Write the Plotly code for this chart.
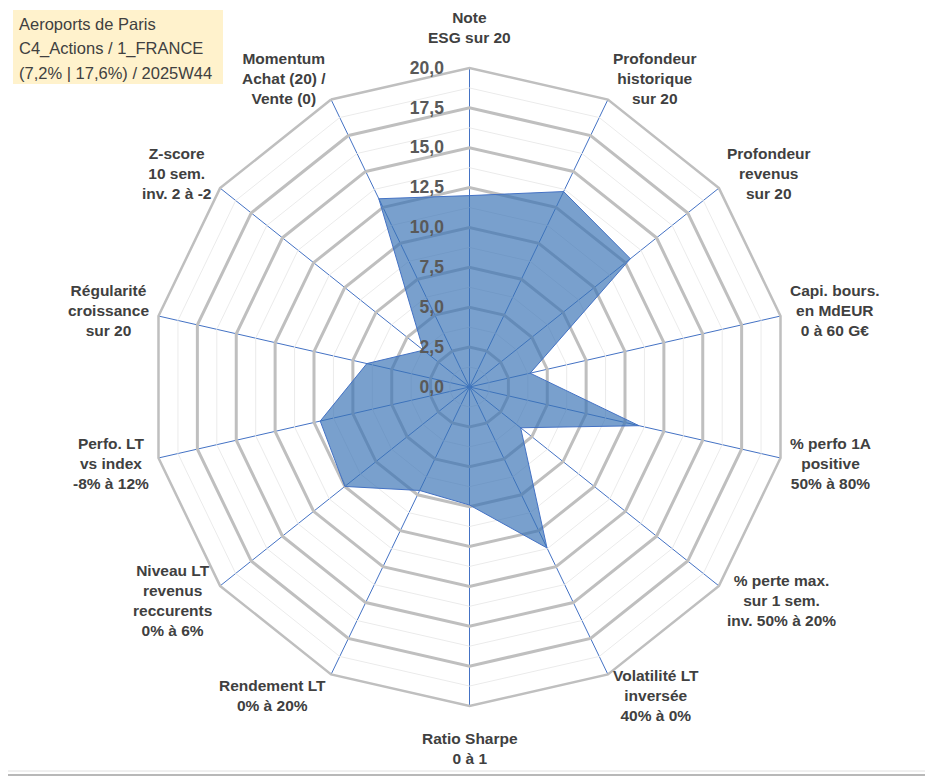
import math
import plotly.graph_objects as go

# --- données ---
criteres = [
    "Note<br>ESG sur 20",
    "Profondeur<br>historique<br>sur 20",
    "Profondeur<br>revenus<br>sur 20",
    "Capi. bours.<br>en MdEUR<br>0 à 60 G€",
    "% perfo 1A<br>positive<br>50% à 80%",
    "% perte max.<br>sur 1 sem.<br>inv. 50% à 20%",
    "Volatilité LT<br>inversée<br>40% à 0%",
    "Ratio Sharpe<br>0 à 1",
    "Rendement LT<br>0% à 20%",
    "Niveau LT<br>revenus<br>reccurents<br>0% à 6%",
    "Perfo. LT<br>vs index<br>-8% à 12%",
    "Régularité<br>croissance<br>sur 20",
    "Z-score<br>10 sem.<br>inv. 2 à -2",
    "Momentum<br>Achat (20) /<br>Vente (0)",
]
notes = [12.0, 13.6, 12.9, 3.9, 10.9, 4.1, 11.2, 7.4, 7.2, 10.0, 9.6, 6.6, 3.7, 13.1]

titre_lignes = [
    "Aeroports de Paris",
    "C4_Actions / 1_FRANCE",
    "(7,2% | 17,6%) / 2025W44",
]

# la page HTML ajoute une marge de 8 px autour de la figure
OFF = 8
W, H = 933 - OFF, 776 - OFF
CX, CY, R = 469.5 - OFF, 387 - OFF, 319
# ellipse des libellés (l'image Excel est un peu étirée verticalement) + écart
LAB_RX, LAB_RY, GAP = 312, 326, 16


def px(x):
    return x / W


def py(y):
    return 1 - y / H


fig = go.Figure()

# grille secondaire (pas de 1,25 entre les graduations principales)
for k in range(1, 16, 2):
    fig.add_trace(go.Scatterpolar(
        r=[k * 1.25] * (len(criteres) + 1),
        theta=criteres + criteres[:1],
        mode="lines",
        line=dict(color="#EBEBEB", width=1),
        hoverinfo="skip",
        showlegend=False,
    ))

# série principale
fig.add_trace(go.Scatterpolar(
    r=notes + notes[:1],
    theta=criteres + criteres[:1],
    mode="lines",
    fill="toself",
    fillcolor="rgba(58,115,182,0.68)",
    line=dict(color="#4472C4", width=1),
    name="Aeroports de Paris",
    showlegend=False,
))

fig.update_layout(
    width=W,
    height=H,
    margin=dict(l=0, r=0, t=0, b=0),
    paper_bgcolor="white",
    separators=", ",
    font=dict(family="Liberation Sans, Arial, sans-serif", color="#404040"),
    polar=dict(
        domain=dict(x=[(CX - R) / W, (CX + R) / W],
                    y=[1 - (CY + R) / H, 1 - (CY - R) / H]),
        bgcolor="white",
        gridshape="linear",
        angularaxis=dict(
            direction="clockwise",
            rotation=90,
            showgrid=True,
            gridcolor="#4472C4",
            gridwidth=1,
            showline=True,
            linecolor="#BFBFBF",
            linewidth=2.5,
            ticks="",
            showticklabels=False,
            layer="above traces",
        ),
        radialaxis=dict(
            range=[0, 20],
            angle=90,
            tickangle=90,
            side="counterclockwise",
            tickvals=[i * 2.5 for i in range(9)],
            tickformat=".1f",
            showline=False,
            ticks="outside",
            ticklen=19,
            tickcolor="rgba(0,0,0,0)",
            gridcolor="#BFBFBF",
            gridwidth=2.5,
            tickfont=dict(size=17.5, color="#595959", weight="bold"),
        ),
    ),
)

# libellés des axes, centrés comme dans Excel, ancrés à l'extérieur du polygone
n = len(criteres)
for i, lab in enumerate(criteres):
    a = 2 * math.pi * i / n
    s, c = math.sin(a), math.cos(a)
    x = CX + (LAB_RX + GAP) * s
    y = CY - (LAB_RY + GAP) * c
    xa = "left" if s > 0.01 else ("right" if s < -0.01 else "center")
    ya = "middle"
    if abs(s) <= 0.01:
        ya = "bottom" if c > 0 else "top"
    if ya == "bottom" and y < 42:
        # pas de place au-dessus : on colle le libellé au bord haut
        y, ya = 0, "top"
    fig.add_annotation(xref="paper", yref="paper", x=px(x), y=py(y),
                       text=lab, showarrow=False, align="center",
                       xanchor=xa, yanchor=ya, borderpad=0,
                       font=dict(size=15.5, color="#404040", weight="bold",
                                 family="Liberation Sans, Arial, sans-serif"))

# cadre du titre
fig.add_shape(type="rect", xref="paper", yref="paper",
              x0=px(13 - OFF), x1=px(223 - OFF), y0=py(84 - OFF), y1=py(10 - OFF),
              fillcolor="#FFF2CC", line=dict(width=0), layer="below")
for i, txt in enumerate(titre_lignes):
    fig.add_annotation(xref="paper", yref="paper", x=px(17 - OFF),
                       y=py(24 + 24.5 * i - OFF),
                       text=txt, showarrow=False, xanchor="left", yanchor="middle",
                       font=dict(size=16.5, color="#404040",
                                 family="Liberation Sans, Arial, sans-serif"))

# bordure de l'image (droite et bas)
fig.add_shape(type="line", xref="paper", yref="paper",
              x0=px(W - 1), x1=px(W - 1), y0=py(H - 1), y1=py(0),
              line=dict(color="#A0A0A0", width=1.5))
fig.add_shape(type="line", xref="paper", yref="paper",
              x0=px(0), x1=px(W - 1), y0=py(H - 1), y1=py(H - 1),
              line=dict(color="#A0A0A0", width=1.5))
fig.add_shape(type="line", xref="paper", yref="paper",
              x0=px(W - 5), x1=px(W - 5), y0=py(H - 5), y1=py(0),
              line=dict(color="#E0E0E0", width=1))
fig.add_shape(type="line", xref="paper", yref="paper",
              x0=px(0), x1=px(W - 5), y0=py(H - 5), y1=py(H - 5),
              line=dict(color="#E0E0E0", width=1))

fig.write_html("out.html")
